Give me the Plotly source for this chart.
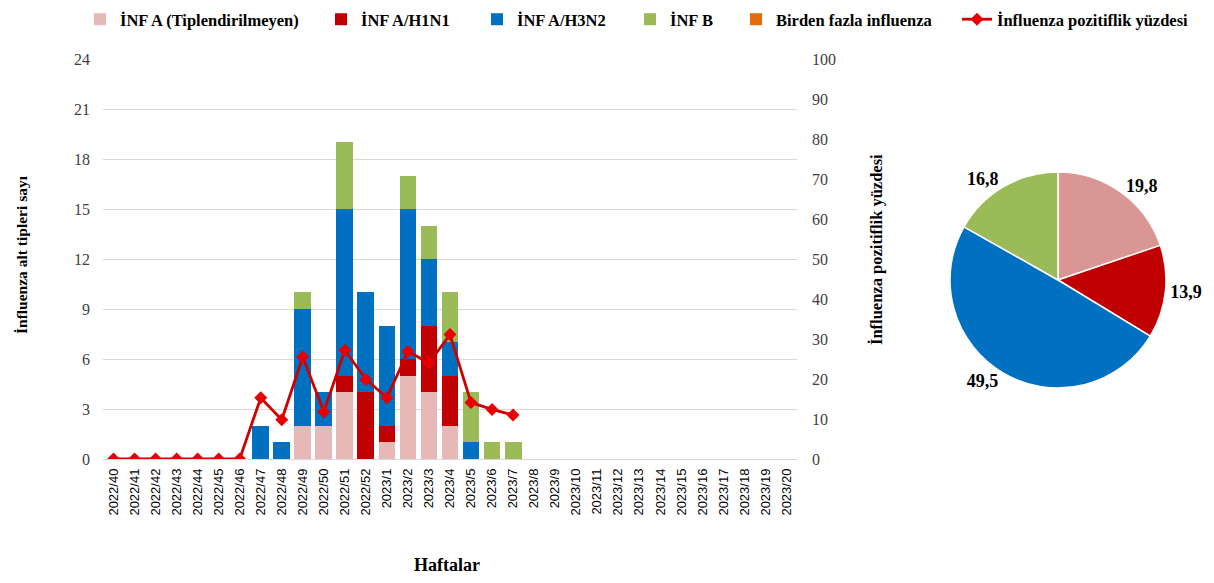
import plotly.graph_objects as go

weeks = ["2022/40", "2022/41", "2022/42", "2022/43", "2022/44", "2022/45", "2022/46",
         "2022/47", "2022/48", "2022/49", "2022/50", "2022/51", "2022/52",
         "2023/1", "2023/2", "2023/3", "2023/4", "2023/5", "2023/6", "2023/7",
         "2023/8", "2023/9", "2023/10", "2023/11", "2023/12", "2023/13", "2023/14",
         "2023/15", "2023/16", "2023/17", "2023/18", "2023/19", "2023/20"]

inf_a_untyped = [0, 0, 0, 0, 0, 0, 0, 0, 0, 2, 2, 4, 0, 1, 5, 4, 2, 0, 0, 0,
                 0, 0, 0, 0, 0, 0, 0, 0, 0, 0, 0, 0, 0]
inf_a_h1n1 = [0, 0, 0, 0, 0, 0, 0, 0, 0, 0, 0, 1, 4, 1, 1, 4, 3, 0, 0, 0,
              0, 0, 0, 0, 0, 0, 0, 0, 0, 0, 0, 0, 0]
inf_a_h3n2 = [0, 0, 0, 0, 0, 0, 0, 2, 1, 7, 2, 10, 6, 6, 9, 4, 2, 1, 0, 0,
              0, 0, 0, 0, 0, 0, 0, 0, 0, 0, 0, 0, 0]
inf_b = [0, 0, 0, 0, 0, 0, 0, 0, 0, 1, 0, 4, 0, 0, 2, 2, 3, 3, 1, 1,
         0, 0, 0, 0, 0, 0, 0, 0, 0, 0, 0, 0, 0]
multi_inf = [0] * 33
positivity = [0, 0, 0, 0, 0, 0, 0, 15.3, 9.8, 25.5, 11.8, 27.2, 19.9,
              15.3, 26.9, 24.0, 31.1, 14.1, 12.4, 11.0,
              None, None, None, None, None, None, None, None, None, None, None, None, None]

series_names = ["İNF A (Tiplendirilmeyen)", "İNF A/H1N1", "İNF A/H3N2", "İNF B",
                "Birden fazla influenza"]
line_name = "İnfluenza pozitiflik yüzdesi"

pie_labels = ["İNF A (Tiplendirilmeyen)", "İNF A/H1N1", "İNF A/H3N2", "İNF B"]
pie_values = [19.8, 13.9, 49.5, 16.8]

left_ticks = [0, 3, 6, 9, 12, 15, 18, 21, 24]
right_ticks = [0, 10, 20, 30, 40, 50, 60, 70, 80, 90, 100]

bar_colors = ["#E6B8B7", "#C00000", "#0070C0", "#9BBB59", "#E46C0A"]
pie_colors = ["#DA9694", "#C00000", "#0070C0", "#9BBB59"]

SERIF = "Liberation Serif"
SANS = "Liberation Sans"

# page body has an 8px margin; map reference-pixel positions to paper fractions
OFF = 8
W, H = 1214 - OFF, 583 - OFF


def px(x):
    return (x - OFF) / W


def py(y):
    return 1 - (y - OFF) / H


legend_ids = ["legend", "legend2", "legend3", "legend4", "legend5", "legend6"]
legend_left = [80, 321, 477, 630, 736, 957]

fig = go.Figure()
for i, (name, vals, col) in enumerate(zip(series_names,
                                          [inf_a_untyped, inf_a_h1n1, inf_a_h3n2, inf_b, multi_inf],
                                          bar_colors)):
    fig.add_trace(go.Bar(x=weeks, y=vals, name=name, marker=dict(color=col, line=dict(width=0)),
                         xaxis="x", yaxis="y", legend=legend_ids[i]))

fig.add_trace(go.Scatter(x=weeks, y=positivity, name=line_name, mode="lines+markers",
                         line=dict(color="#D00000", width=2.8),
                         marker=dict(symbol="diamond", size=10, color="#E80000"),
                         xaxis="x", yaxis="y2", legend=legend_ids[5]))

fig.add_trace(go.Pie(labels=pie_labels, values=pie_values, sort=False, direction="clockwise",
                     rotation=0, marker=dict(colors=pie_colors, line=dict(color="white", width=1.5)),
                     texttemplate="<b>%{value:.1f}</b>", textposition="outside",
                     textfont=dict(family=SERIF, size=18, color="#000000"),
                     showlegend=False,
                     domain=dict(x=[px(950), px(1166)], y=[py(388), py(172)])))

layout_legends = {}
for lid, lx in zip(legend_ids, legend_left):
    layout_legends[lid] = dict(orientation="h", xanchor="left", yanchor="top",
                               x=px(lx), y=py(2), bgcolor="rgba(0,0,0,0)",
                               font=dict(family=SERIF, size=16.5, color="#000000", weight="bold"))

fig.update_layout(
    width=W, height=H,
    margin=dict(l=0, r=0, t=0, b=0, autoexpand=False),
    paper_bgcolor="white", plot_bgcolor="white",
    barmode="stack", bargap=0.2,
    separators=",.",
    font=dict(family=SERIF, color="#000000"),
    showlegend=True,
    xaxis=dict(domain=[px(103), px(797)], type="category", range=[-0.5, 32.5],
               tickangle=-90,
               tickfont=dict(family=SANS, size=13, color="#000000"),
               showgrid=False, showline=False, ticks="", automargin=False,
               ticklabelstandoff=6),
    yaxis=dict(range=[0, 24], tickvals=left_ticks, domain=[py(459), py(59)],
               tickfont=dict(family=SERIF, size=16, color="#404040"),
               showgrid=True, gridcolor="#D9D9D9", gridwidth=1.3,
               zeroline=True, zerolinecolor="#D9D9D9", zerolinewidth=1.3,
               showline=False, ticks="", ticklabelstandoff=12, automargin=False),
    yaxis2=dict(range=[0, 100], tickvals=right_ticks, overlaying="y", side="right",
                tickfont=dict(family=SERIF, size=16, color="#404040"),
                showgrid=False, zeroline=False, showline=False, ticks="",
                ticklabelstandoff=14, automargin=False),
    annotations=[
        dict(text="<b>İnfluenza alt tipleri sayı</b>", x=px(22), y=py(255),
             xanchor="center", yanchor="middle",
             xref="paper", yref="paper", textangle=-90, showarrow=False,
             font=dict(family=SERIF, size=15.5, color="#000000")),
        dict(text="<b>İnfluenza pozitiflik yüzdesi</b>", x=px(877), y=py(250),
             xanchor="center", yanchor="middle",
             xref="paper", yref="paper", textangle=-90, showarrow=False,
             font=dict(family=SERIF, size=16.5, color="#000000")),
        dict(text="<b>Haftalar</b>", x=px(447), y=py(565),
             xanchor="center", yanchor="middle",
             xref="paper", yref="paper", showarrow=False,
             font=dict(family=SERIF, size=18, color="#000000")),
    ],
    **layout_legends,
)

fig.write_html("out.html")
